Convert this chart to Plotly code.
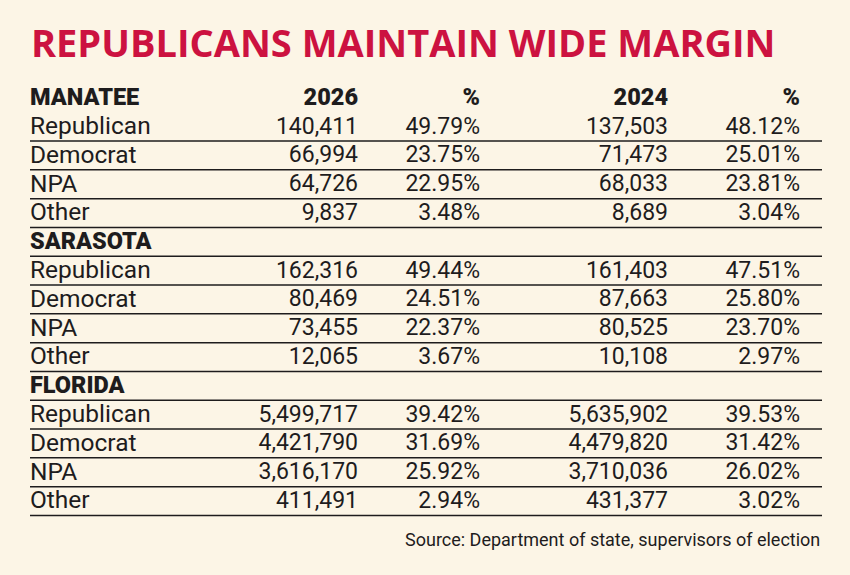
import plotly.graph_objects as go

# Voter registration by party, 2026 vs 2024
sections = ["MANATEE", "SARASOTA", "FLORIDA"]
parties = ["Republican", "Democrat", "NPA", "Other"]
col_headers = ["2026", "%", "2024", "%"]

manatee_2026 = [140411, 66994, 64726, 9837]
manatee_2026_pct = [49.79, 23.75, 22.95, 3.48]
manatee_2024 = [137503, 71473, 68033, 8689]
manatee_2024_pct = [48.12, 25.01, 23.81, 3.04]

sarasota_2026 = [162316, 80469, 73455, 12065]
sarasota_2026_pct = [49.44, 24.51, 22.37, 3.67]
sarasota_2024 = [161403, 87663, 80525, 10108]
sarasota_2024_pct = [47.51, 25.80, 23.70, 2.97]

florida_2026 = [5499717, 4421790, 3616170, 411491]
florida_2026_pct = [39.42, 31.69, 25.92, 2.94]
florida_2024 = [5635902, 4479820, 3710036, 431377]
florida_2024_pct = [39.53, 31.42, 26.02, 3.02]

title = "REPUBLICANS MAINTAIN WIDE MARGIN"
source = "Source: Department of state, supervisors of election"

BG = "#FCF5E6"
INK = "#1E1C1D"
RED = "#CC1240"
FONT = "Roboto"
TITLE_FONT = "Open Sans"

# column x positions (in px, x axis spans the page width)
label_x = 30
col_x = [358, 480, 668, 800]
line_x0, line_x1 = 30, 822

section_data = [
    (manatee_2026, manatee_2026_pct, manatee_2024, manatee_2024_pct),
    (sarasota_2026, sarasota_2026_pct, sarasota_2024, sarasota_2024_pct),
    (florida_2026, florida_2026_pct, florida_2024, florida_2024_pct),
]

# build row lists
head_rows, head_labels = [], []
body_rows, body_labels = [], []
cols_body = [[], [], [], []]
row = 0
for name, (v26, p26, v24, p24) in zip(sections, section_data):
    head_rows.append(row)
    head_labels.append(name)
    row += 1
    for k, party in enumerate(parties):
        body_rows.append(row)
        body_labels.append(party)
        cols_body[0].append(f"{v26[k]:,}")
        cols_body[1].append(f"{p26[k]:.2f}%")
        cols_body[2].append(f"{v24[k]:,}")
        cols_body[3].append(f"{p24[k]:.2f}%")
        row += 1
n_rows = row

fig = go.Figure()

# section headers
fig.add_trace(go.Scatter(
    x=[label_x] * len(head_rows), y=head_rows, text=head_labels,
    mode="text", textposition="middle right",
    textfont=dict(family=FONT, size=23.5, color=INK, weight=900),
    hoverinfo="skip", showlegend=False,
))
# column headers on the first row
fig.add_trace(go.Scatter(
    x=col_x, y=[0] * len(col_x), text=col_headers,
    mode="text", textposition="middle left",
    textfont=dict(family=FONT, size=23.5, color=INK, weight=900),
    hoverinfo="skip", showlegend=False,
))
# party labels
fig.add_trace(go.Scatter(
    x=[label_x] * len(body_rows), y=body_rows, text=body_labels,
    mode="text", textposition="middle right",
    textfont=dict(family=FONT, size=24.5, color=INK, weight=400),
    hoverinfo="skip", showlegend=False,
))
# numeric columns
for cx, vals in zip(col_x, cols_body):
    fig.add_trace(go.Scatter(
        x=[cx] * len(body_rows), y=body_rows, text=vals,
        mode="text", textposition="middle left",
        textfont=dict(family=FONT, size=23, color=INK, weight=400),
        hoverinfo="skip", showlegend=False,
    ))

# rules under every row except the first header
lx, ly = [], []
for r in range(1, n_rows):
    lx += [line_x0, line_x1, None]
    ly += [r + 0.46, r + 0.46, None]
fig.add_trace(go.Scatter(
    x=lx, y=ly, mode="lines",
    line=dict(color=INK, width=1.5),
    hoverinfo="skip", showlegend=False,
))

# y axis in row units: row 0 at 99px, 28.8px per row
px_per_row = 28.8
y_top = -99 / px_per_row
y_bot = y_top + 575 / px_per_row

fig.add_annotation(
    x=label_x - 1, y=1 - 42 / 575, xref="x", yref="paper",
    text=f"<b>{title}</b>", showarrow=False,
    xanchor="left", yanchor="middle",
    font=dict(family=TITLE_FONT, size=38, color=RED),
)
fig.add_annotation(
    x=line_x1, y=1 - 539 / 575, xref="x", yref="paper",
    text=source, showarrow=False,
    xanchor="right", yanchor="middle",
    font=dict(family=FONT, size=18, color=INK),
)

fig.update_layout(
    width=850, height=575,
    margin=dict(l=0, r=0, t=0, b=0),
    paper_bgcolor=BG, plot_bgcolor=BG,
    xaxis=dict(range=[0, 850], visible=False, fixedrange=True),
    yaxis=dict(range=[y_bot, y_top], visible=False, fixedrange=True),
)

# drop the page's default body margin so the figure fills the window
fig.write_html(
    "out.html",
    config={"displayModeBar": False, "staticPlot": True},
    post_script=f"document.body.style.margin='0';document.body.style.background='{BG}';",
)
